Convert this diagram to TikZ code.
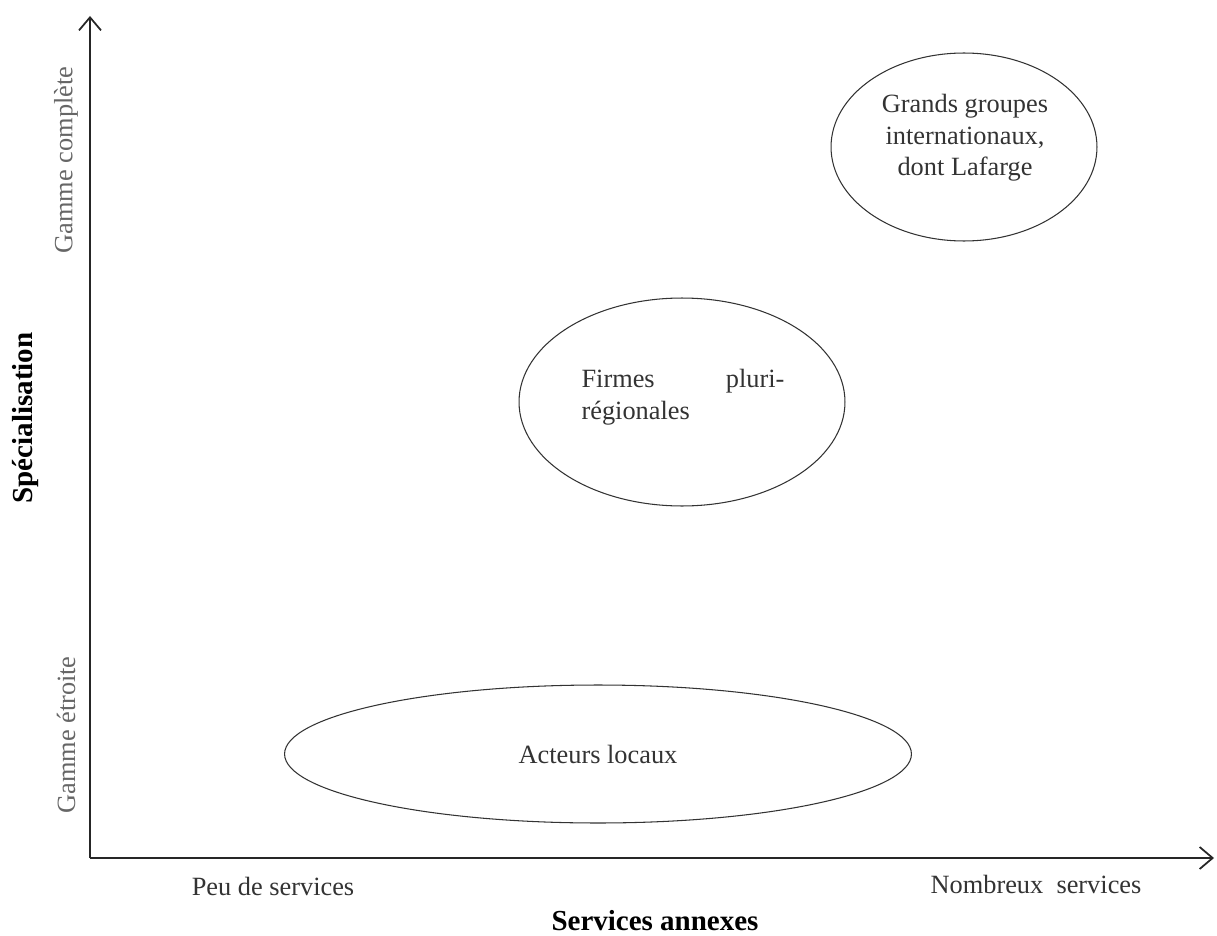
\documentclass[tikz,border=0pt]{standalone}
\usepackage{fontspec}
\setmainfont{Liberation Serif}
\usepackage{tikz}
\usetikzlibrary{shapes.geometric, arrows.meta, positioning}
\tikzset{
  groupe/.style={
    ellipse, draw=black!80, line width=0.6pt, inner sep=0pt,
    align=center, font=\fontsize{15}{18}\selectfont, text=black!80
  },
  axe/.style={-{Straight Barb[length=2.6mm,width=4.4mm]}, line width=1pt, draw=black!85},
  echelon/.style={font=\fontsize{15}{18}\selectfont, text=black!80, inner sep=0pt},
  gamme/.style={echelon, rotate=90, text=black!60},
  titre/.style={font=\fontsize{16.5}{20}\selectfont\bfseries, inner sep=0pt}
}
\begin{document}
\begin{tikzpicture}[x=0.02cm, y=-0.02cm]
\useasboundingbox (0,0) rectangle (1217,936);

% axes
\coordinate (orig) at (90,858);
\coordinate (ytop) at (90,16);
\coordinate (xend) at (1214,858);
\draw[axe] (orig) -- (ytop);
\draw[axe] (orig) -- (xend);

\node[gamme]  (gcomp) at (66,160) {Gamme complète};
\node[gamme]  (getr)  at (66,735) {Gamme étroite};
\node[titre, rotate=90] (spec) at (26,418) {Spécialisation};

\node[echelon] (peu)  at (273,886)  {Peu de services};
\node[echelon] (nomb) at (1036,884) {Nombreux\ \ services};
\node[titre]   (serv) at (655,921)  {Services annexes};

% groupes d'acteurs
\node[groupe, minimum width=5.32cm, minimum height=3.76cm] (grands) at (964,147) {};
\node[echelon, align=center] (grtxt) at (965,138)
  {Grands groupes\\internationaux,\\dont Lafarge};
\node[groupe, minimum width=6.52cm, minimum height=4.16cm] (firmes) at (682,402) {};
\node[echelon, text width=4.06cm, align=left] (firmtxt) at (683,397)
  {Firmes\hfill pluri-\\régionales};
\node[groupe, minimum width=12.54cm, minimum height=2.76cm] (locaux) at (598,754)
  {Acteurs locaux};

\end{tikzpicture}
\end{document}
